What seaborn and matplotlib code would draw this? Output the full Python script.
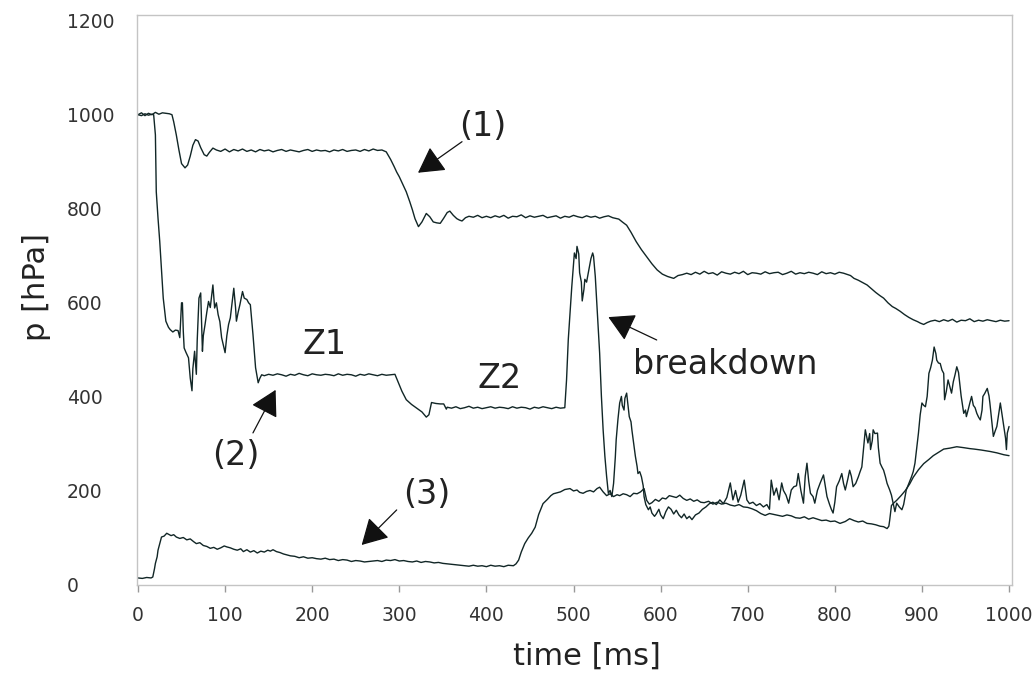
import matplotlib
matplotlib.use("Agg")
import matplotlib.pyplot as plt
import seaborn as sns
import pandas as pd
import numpy as np

# ---------------- data ----------------
t1 = ([0, 4, 8, 12, 16, 20, 24, 28, 32, 36, 39, 41, 44, 47, 50, 54, 57, 60, 63, 66, 69, 72, 76, 79, 82, 86]
      + list(range(90, 290, 5))
      + [290, 294, 297, 300, 304, 308, 312, 315, 318, 322, 326, 331, 335, 339, 343, 347, 351, 355, 358, 362,
         366, 369, 372, 376, 380, 385, 390, 395]
      + list(range(400, 550, 5))
      + [552, 556, 561, 566, 572, 578, 584, 590, 596, 602, 608, 615, 620, 625]
      + list(range(630, 815, 5))
      + [818, 822, 827, 832, 837, 842, 847, 852, 856, 861, 866, 870, 875, 880, 885, 890, 895, 898, 902, 906, 910]
      + list(range(915, 1005, 5)))
p1 = ([1000, 1004, 998, 1003, 1000, 1005, 1001, 1004, 1003, 1002, 1000, 985, 957, 925, 896, 887, 893, 912, 935,
       947, 944, 930, 915, 912, 920, 929]
      + [925, 922, 927, 921, 926, 923, 927, 922, 925, 921, 926, 923, 925, 921, 924, 926, 922, 925, 923, 921,
         924, 926, 922, 925, 923, 924, 921, 925, 923, 926, 922, 924, 925, 922, 926, 923, 927, 924, 925, 921]
      + [905, 890, 878, 868, 852, 836, 815, 798, 779, 762, 772, 790, 783, 772, 770, 769, 780, 792, 795, 786,
         779, 776, 774, 781, 784, 782, 786, 781]
      + [784, 781, 785, 782, 786, 780, 784, 783, 787, 781, 785, 782, 784, 786, 781, 783, 785, 780, 784, 782,
         786, 783, 781, 785, 782, 784, 780, 783, 785, 781]
      + [778, 772, 765, 750, 730, 713, 698, 683, 670, 661, 656, 652, 658, 660]
      + [663, 660, 665, 661, 667, 662, 664, 659, 666, 663, 661, 665, 662, 667, 660, 664, 663, 661, 666, 662,
         664, 665, 660, 663, 667, 661, 664, 662, 665, 663, 660, 666, 662, 664, 661, 665, 663]
      + [658, 652, 648, 643, 638, 630, 622, 615, 610, 600, 592, 588, 582, 575, 569, 564, 560, 557, 554, 558, 561]
      + [563, 560, 564, 561, 565, 559, 563, 562, 566, 560, 563, 561, 564, 562, 560, 563, 561, 562])

t2 = ([0, 4, 8, 12, 16, 18, 20, 21, 23, 25, 27, 29, 32, 35, 37, 40, 43, 46, 48, 50, 51, 52, 53, 55, 58, 60, 62,
       63, 65, 67, 68, 70, 72, 73, 74, 75, 77, 79, 81, 83, 86, 88, 90, 92, 94, 96, 98, 100, 102, 104, 106, 108,
       110, 112, 113, 115, 117, 119, 120, 122, 125, 127, 129, 132, 135, 138, 140, 142]
      + list(range(145, 300, 5))
      + [299, 303, 308, 314, 320, 326, 331, 334, 337, 342, 347, 351, 354]
      + list(range(355, 495, 5))
      + [492, 494, 496, 498, 500, 501, 503, 504, 506, 507, 509, 510, 512, 513, 515, 517, 519, 520, 522, 523, 525,
         527, 530, 532, 534, 536, 538, 540, 542, 544, 546, 548, 549, 551, 553, 555, 556, 558, 559, 561, 562, 564,
         566, 567, 569, 571, 573, 574, 576, 578, 580, 581, 583, 586, 588, 590, 593, 595, 598, 600, 603, 606, 609,
         612, 615, 618, 621, 624, 627, 630, 633, 636, 640, 644, 648, 652, 656, 660, 664, 668, 672, 676, 680, 683,
         686, 689, 692, 696, 699, 702, 706, 710, 714, 718, 722, 725, 727, 730, 733, 736, 739, 741, 744, 747, 750,
         753, 756, 758, 761, 764, 766, 768, 770, 772, 775, 777, 780, 783, 787, 789, 791, 794, 796, 798, 800, 802,
         805, 808, 810, 812, 815, 817, 819, 821, 824, 827, 829, 831, 833, 835, 837, 838, 840, 841, 843, 844, 846,
         849, 850, 852, 854, 856, 858, 860, 863, 865, 867, 869, 871, 874, 877, 879, 882, 885, 888, 890, 892, 894,
         896, 898, 900, 902, 904, 906, 908, 910, 912, 914, 916, 917, 919, 921, 923, 925, 926, 928, 930, 932, 934,
         936, 938, 940, 942, 943, 945, 948, 950, 951, 953, 955, 957, 959, 961, 963, 965, 967, 969, 970, 972, 975,
         977, 978, 980, 982, 984, 986, 988, 990, 992, 994, 996, 997, 998, 1000])
p2 = ([1000, 998, 1002, 999, 1001, 1000, 957, 836, 780, 730, 670, 610, 561, 548, 543, 538, 542, 541, 526, 600,
       600, 540, 504, 495, 483, 440, 413, 460, 497, 448, 520, 610, 621, 560, 497, 530, 554, 580, 603, 590, 638,
       589, 600, 575, 560, 526, 510, 494, 530, 554, 568, 600, 631, 590, 561, 580, 596, 615, 624, 610, 607, 600,
       596, 533, 462, 430, 440, 447]
      + [445, 448, 446, 449, 447, 444, 448, 446, 450, 447, 445, 449, 447, 446, 448, 447, 445, 449, 446, 448,
         447, 444, 448, 446, 449, 447, 445, 448, 446, 447, 448]
      + [430, 412, 394, 384, 376, 368, 357, 362, 388, 386, 385, 385, 374]
      + [378, 376, 379, 375, 377, 380, 376, 378, 375, 377, 379, 376, 378, 377, 375, 379, 376, 378, 377, 374,
         378, 376, 379, 377, 375, 378, 376, 377]
      + [436, 522, 578, 634, 684, 706, 694, 720, 704, 664, 644, 604, 629, 650, 644, 664, 684, 694, 706, 699, 656,
         592, 493, 402, 330, 274, 231, 195, 201, 188, 216, 272, 309, 352, 387, 401, 382, 372, 397, 408, 392, 358,
         347, 330, 302, 274, 252, 237, 241, 230, 211, 188, 171, 160, 166, 153, 146, 151, 161, 149, 141, 156, 166,
         161, 151, 159, 149, 143, 151, 141, 146, 139, 149, 153, 161, 166, 173, 176, 171, 181, 173, 186, 217, 181,
         201, 176, 191, 223, 181, 173, 176, 169, 173, 166, 171, 161, 223, 191, 206, 181, 217, 201, 191, 174, 202,
         209, 211, 237, 201, 174, 231, 259, 221, 195, 188, 174, 201, 216, 234, 211, 188, 171, 161, 153, 176, 209,
         221, 237, 216, 202, 226, 244, 231, 209, 216, 230, 241, 251, 291, 330, 312, 302, 322, 288, 307, 330, 322,
         323, 292, 259, 251, 244, 231, 216, 202, 191, 174, 156, 174, 166, 160, 171, 202, 216, 230, 241, 259, 292,
         323, 362, 387, 382, 379, 401, 450, 462, 478, 506, 492, 478, 472, 471, 457, 450, 394, 412, 436, 422, 408,
         432, 447, 464, 452, 436, 402, 365, 372, 358, 372, 387, 401, 382, 377, 365, 357, 351, 372, 401, 407, 418,
         402, 387, 352, 316, 327, 337, 362, 387, 362, 337, 312, 288, 323, 337])

t3 = [0, 5, 10, 15, 17, 19, 20, 22, 23, 25, 27, 30, 33, 35, 38, 41, 44, 48, 52, 56, 60, 64, 67, 71, 75, 79, 83,
      87, 91, 95, 99, 102, 106, 110, 114, 118, 121, 125, 129, 133, 137, 141, 145, 149, 152, 155, 159, 163, 167,
      171, 175, 180, 185, 190, 195, 200, 205, 210, 215, 220, 225, 230, 235, 240, 245, 250, 255, 260, 265, 270,
      275, 280, 285, 290, 295, 300, 305, 310, 315, 320, 325, 330, 335, 340, 345, 350, 355, 360, 365, 370, 375,
      380, 385, 390, 395, 400, 405, 410, 415, 420, 425, 431, 434, 437, 440, 444, 448, 452, 456, 460, 465, 470,
      474, 477, 481, 485, 490, 496, 500, 504, 507, 511, 515, 519, 523, 527, 530, 534, 538, 542, 546, 550, 553,
      557, 561, 565, 569, 573, 577, 581, 584, 587, 590, 594, 598, 602, 606, 610, 614, 618, 622, 626, 630, 634,
      638, 642, 646, 650, 655, 660, 665, 670, 675, 680, 685, 690, 695, 700, 705, 710, 715, 720, 725, 730, 735,
      740, 745, 750, 755, 760, 765, 770, 775, 780, 785, 790, 795, 800, 806, 812, 817, 822, 827, 832, 837, 842,
      847, 852, 856, 860, 862, 863, 865, 868, 871, 876, 881, 886, 890, 896, 902, 908, 913, 919, 925, 932, 940,
      948, 955, 960, 968, 978, 986, 994, 1000]
p3 = [15, 14, 16, 15, 17, 35, 46, 60, 74, 88, 102, 104, 110, 108, 105, 107, 102, 99, 101, 96, 98, 92, 88, 90,
      84, 82, 78, 80, 76, 79, 83, 81, 79, 76, 74, 77, 71, 75, 70, 73, 68, 72, 70, 74, 72, 75, 71, 69, 66, 64,
      62, 61, 58, 60, 57, 58, 56, 55, 57, 54, 55, 52, 54, 53, 50, 52, 51, 49, 50, 51, 52, 50, 53, 52, 54, 51,
      52, 50, 49, 51, 48, 50, 49, 47, 48, 46, 45, 44, 43, 42, 41, 40, 42, 40, 41, 39, 42, 40, 41, 39, 42, 41,
      45, 53, 70, 88, 100, 110, 123, 150, 173, 182, 190, 194, 196, 198, 203, 205, 200, 202, 197, 195, 199, 201,
      198, 205, 208, 198, 190, 194, 188, 192, 190, 194, 192, 188, 195, 194, 198, 205, 180, 172, 175, 182, 178,
      185, 183, 190, 188, 186, 191, 184, 180, 183, 178, 181, 176, 175, 178, 172, 176, 172, 174, 170, 168, 171,
      166, 165, 162, 158, 152, 148, 152, 150, 148, 146, 149, 147, 143, 142, 145, 140, 143, 140, 137, 138, 135,
      136, 131, 135, 141, 137, 134, 136, 131, 130, 128, 125, 124, 120, 125, 138, 169, 175, 180, 190, 201, 215,
      229, 245, 258, 267, 275, 282, 289, 291, 294, 292, 290, 289, 287, 284, 281, 277, 275]

x_ticks = [0, 100, 200, 300, 400, 500, 600, 700, 800, 900, 1000]
y_ticks = [0, 200, 400, 600, 800, 1000, 1200]

# ---------------- styling ----------------
sns.set_theme(style="white")
plt.rcParams['font.family'] = ['DejaVu Sans']

LINE = '#112626'
GRID = '#c4c4c4'
TXT = '#222222'

fig = plt.figure(figsize=(10.36, 6.82), dpi=100)
ax = fig.add_axes([136.5 / 1036, 1 - 585 / 682, (1012 - 136.5) / 1036, (585 - 15) / 682])

for tt, pp in [(t1, p1), (t2, p2), (t3, p3)]:
    df = pd.DataFrame({'time': tt, 'p': pp})
    sns.lineplot(data=df, x='time', y='p', ax=ax, color=LINE, linewidth=1.0,
                 estimator=None, sort=False)

ax.set_xlim(-1.7, 1003.4)
ax.set_ylim(0, 1212)
ax.set_xticks(x_ticks)
ax.set_xticklabels([str(v) for v in x_ticks])
ax.set_yticks(y_ticks)
ax.set_yticklabels([str(v) for v in y_ticks])

for s in ax.spines.values():
    s.set_visible(True)
    s.set_color(GRID)
    s.set_linewidth(1.0)

ax.tick_params(axis='x', which='major', bottom=True, length=5, width=1, color='#999999',
               direction='out', pad=10, labelsize=13.5, labelcolor='#333333')
ax.tick_params(axis='y', which='major', left=False, length=0, pad=50,
               labelsize=13.5, labelcolor='#333333')
for lab in ax.get_yticklabels():
    lab.set_horizontalalignment('left')

ax.set_xlabel('time [ms]', fontsize=22, color=TXT)
ax.set_ylabel('p [hPa]', fontsize=22, color=TXT)
ax.xaxis.set_label_coords(0.5146, -0.10)
ax.yaxis.set_label_coords(-0.098, 0.523)

# annotations
arrow_kw = dict(arrowstyle='-|>,head_length=0.8,head_width=0.45', color='#111111', lw=0.9,
                mutation_scale=20, shrinkA=0, shrinkB=0)
arrows = [((321.5, 876.6), (372, 942.6)),
          ((158, 414.9), (132, 323.4)),
          ((256.8, 85.1), (297, 159.6)),
          ((540, 569.6), (595.5, 521))]
for tip, tail in arrows:
    ax.annotate('', xy=tip, xytext=tail, arrowprops=arrow_kw)

labels = [('(1)', 396, 974.5), ('(2)', 112.5, 274.5), ('(3)', 331.8, 191.5),
          ('Z1', 214.7, 510.6), ('Z2', 415.6, 438.3), ('breakdown', 674, 468)]
for txt, x, y in labels:
    ax.text(x, y, txt, fontsize=24, color=TXT, ha='center', va='center')

fig.savefig('out.png', dpi=100)
